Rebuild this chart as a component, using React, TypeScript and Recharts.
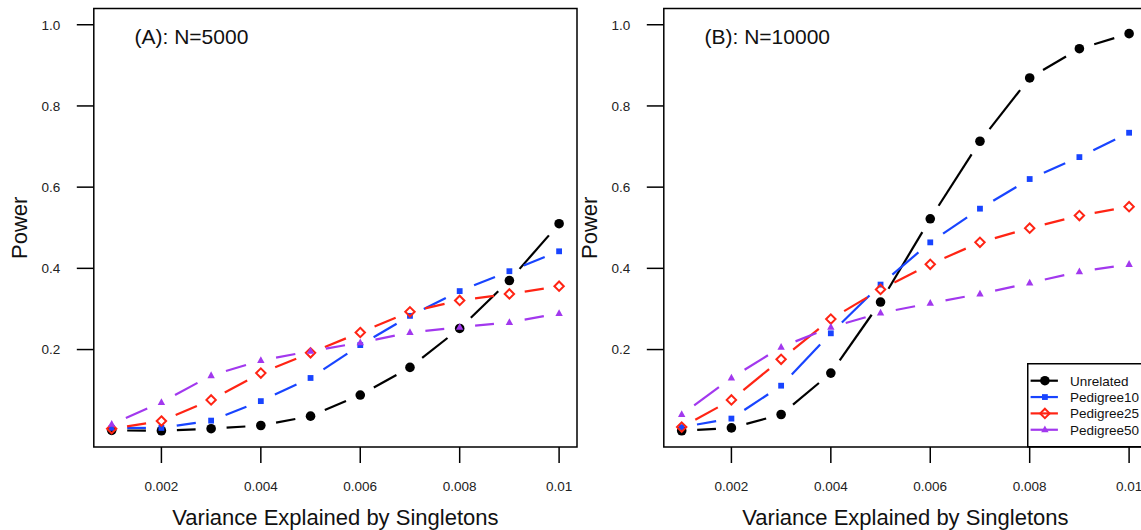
import React from 'react';
import { LineChart, Line, XAxis, YAxis, ReferenceArea, Legend } from 'recharts';

// variance explained (x) and the four power curves per panel
const xs = [0.001, 0.002, 0.003, 0.004, 0.005, 0.006, 0.007, 0.008, 0.009, 0.01];
const xTicks = [0.002, 0.004, 0.006, 0.008, 0.01];
const yTicks = [0.2, 0.4, 0.6, 0.8, 1.0];
const seriesNames = ['Unrelated', 'Pedigree10', 'Pedigree25', 'Pedigree50'];

const unrelatedA = [0.001, 0.0, 0.005, 0.013, 0.036, 0.088, 0.156, 0.252, 0.37, 0.51];
const ped10A = [0.007, 0.007, 0.025, 0.073, 0.13, 0.211, 0.283, 0.344, 0.393, 0.442];
const ped25A = [0.005, 0.024, 0.076, 0.142, 0.192, 0.242, 0.293, 0.321, 0.337, 0.356];
const ped50A = [0.016, 0.07, 0.136, 0.173, 0.196, 0.217, 0.242, 0.255, 0.267, 0.289];

const unrelatedB = [0.0, 0.007, 0.04, 0.142, 0.317, 0.522, 0.713, 0.869, 0.941, 0.978];
const ped10B = [0.009, 0.03, 0.111, 0.24, 0.36, 0.464, 0.547, 0.62, 0.674, 0.734];
const ped25B = [0.009, 0.076, 0.176, 0.275, 0.348, 0.41, 0.464, 0.499, 0.53, 0.552];
const ped50B = [0.04, 0.13, 0.206, 0.255, 0.29, 0.314, 0.337, 0.364, 0.392, 0.41];

const FONT = '"Liberation Sans", Arial, Helvetica, sans-serif';
const GAP = 15.5;
const X_DOMAIN: [number, number] = [0.00064, 0.01036];
const Y_DOMAIN: [number, number] = [-0.04, 1.04];

type Kind = 'circle' | 'square' | 'diamond' | 'triangle';
const styles: { key: string; color: string; kind: Kind }[] = [
  { key: 'unrelated', color: '#000000', kind: 'circle' },
  { key: 'ped10', color: '#1844ff', kind: 'square' },
  { key: 'ped25', color: '#ff2414', kind: 'diamond' },
  { key: 'ped50', color: '#a238ee', kind: 'triangle' },
];

function buildRows(u: number[], p10: number[], p25: number[], p50: number[]) {
  return xs.map((x, i) => ({ x, unrelated: u[i], ped10: p10[i], ped25: p25[i], ped50: p50[i] }));
}
const rowsA = buildRows(unrelatedA, ped10A, ped25A, ped50A);
const rowsB = buildRows(unrelatedB, ped10B, ped25B, ped50B);

function marker(kind: Kind, color: string, cx: number, cy: number) {
  switch (kind) {
    case 'circle':
      return <circle cx={cx} cy={cy} r={4.8} fill={color} />;
    case 'square':
      return <rect x={cx - 2.9} y={cy - 2.9} width={5.8} height={5.8} fill={color} />;
    case 'diamond':
      return (
        <polygon
          points={`${cx},${cy - 4.7} ${cx + 4.7},${cy} ${cx},${cy + 4.7} ${cx - 4.7},${cy}`}
          fill="none"
          stroke={color}
          strokeWidth={2}
        />
      );
    default:
      return (
        <polygon
          points={`${cx},${cy - 4.2} ${cx + 3.7},${cy + 2.6} ${cx - 3.7},${cy + 2.6}`}
          fill={color}
        />
      );
  }
}

// R type="b": segments with a gap around each point
const makeDot = (kind: Kind, color: string) => (props: any) => {
  const { cx, cy, index, points } = props;
  const next = points && points[index + 1];
  let seg = null;
  if (next && cx != null && next.x != null) {
    const dx = next.x - cx;
    const dy = next.y - cy;
    const len = Math.hypot(dx, dy);
    if (len > 2 * GAP) {
      const ux = dx / len;
      const uy = dy / len;
      seg = (
        <line
          x1={cx + ux * GAP}
          y1={cy + uy * GAP}
          x2={next.x - ux * GAP}
          y2={next.y - uy * GAP}
          stroke={color}
          strokeWidth={2.2}
        />
      );
    }
  }
  return (
    <g key={`dot-${index}`}>
      {seg}
      {marker(kind, color, cx, cy)}
    </g>
  );
};

function LegendBox() {
  return (
    <svg width={140} height={85} style={{ display: 'block' }}>
      <rect x={0.75} y={0.75} width={200} height={83} fill="#fff" stroke="#000" strokeWidth={1.5} />
      {styles.map((s, i) => {
        const y = 17.7 + i * 16.35;
        return (
          <g key={s.key}>
            <line x1={3.6} x2={30.9} y1={y} y2={y} stroke={s.color} strokeWidth={2.2} />
            {marker(s.kind, s.color, 17.9, y)}
            <text x={42.9} y={y + 4.8} fontSize={13.5} fill="#111" fontFamily={FONT}>
              {seriesNames[i]}
            </text>
          </g>
        );
      })}
    </svg>
  );
}

function Panel({ rows, title, left, legend }: { rows: any[]; title: string; left: number; legend?: boolean }) {
  return (
    <div style={{ position: 'absolute', left, top: 0, width: 590, height: 530 }}>
      <LineChart width={590} height={530} data={rows} margin={{ top: 8.5, right: 13, bottom: 0, left: 0 }} style={{ fontFamily: FONT }}>
        <XAxis
          type="number"
          dataKey="x"
          domain={X_DOMAIN}
          ticks={xTicks}
          interval={0}
          height={83}
          axisLine={false}
          stroke="#000"
          tickLine={{ stroke: '#000', strokeWidth: 1.5 }}
          tickSize={16}
          tickMargin={18}
          tick={{ fontSize: 13.5, fill: '#222' }}
          tickFormatter={(v: number) => String(v)}
          label={{ value: 'Variance Explained by Singletons', position: 'insideBottom', offset: 5, style: { fontSize: 22, fill: '#111', textAnchor: 'middle' } }}
        />
        <YAxis
          type="number"
          domain={Y_DOMAIN}
          ticks={yTicks}
          interval={0}
          width={93.8}
          axisLine={false}
          stroke="#000"
          tickLine={{ stroke: '#000', strokeWidth: 1.5 }}
          tickSize={17}
          tickMargin={16.5}
          tick={{ fontSize: 13.5, fill: '#222' }}
          tickFormatter={(v: number) => v.toFixed(1)}
          label={{ value: 'Power', angle: -90, position: 'insideLeft', offset: 19.5, style: { fontSize: 22, fill: '#111', textAnchor: 'middle' } }}
        />
        <ReferenceArea x1={X_DOMAIN[0]} x2={X_DOMAIN[1]} y1={Y_DOMAIN[0]} y2={Y_DOMAIN[1]} fill="none" stroke="#000" strokeWidth={1.5} fillOpacity={0} />
        {styles.map((s, i) => (
          <Line
            key={s.key}
            dataKey={s.key}
            name={seriesNames[i]}
            stroke={s.color}
            strokeOpacity={0}
            dot={makeDot(s.kind, s.color)}
            activeDot={false}
            isAnimationActive={false}
          />
        ))}
        {legend && (
          <Legend
            layout="vertical"
            align="center"
            verticalAlign="middle"
            content={() => <LegendBox />}
            wrapperStyle={{ position: 'absolute', left: 457.4, top: 363.3, width: 140, height: 85 }}
          />
        )}
      </LineChart>
      <svg width={590} height={60} style={{ position: 'absolute', left: 0, top: 0, pointerEvents: 'none' }}>
        <text x={134.5} y={44.2} fontSize={21} fill="#111" fontFamily={FONT}>
          {title}
        </text>
      </svg>
    </div>
  );
}

export default function App() {
  return (
    <div style={{ position: 'absolute', left: 0, top: 0, width: 1141, height: 530, overflow: 'hidden', background: '#fff' }}>
      <Panel rows={rowsA} title="(A): N=5000" left={0} />
      <Panel rows={rowsB} title="(B): N=10000" left={569.6} legend />
    </div>
  );
}
